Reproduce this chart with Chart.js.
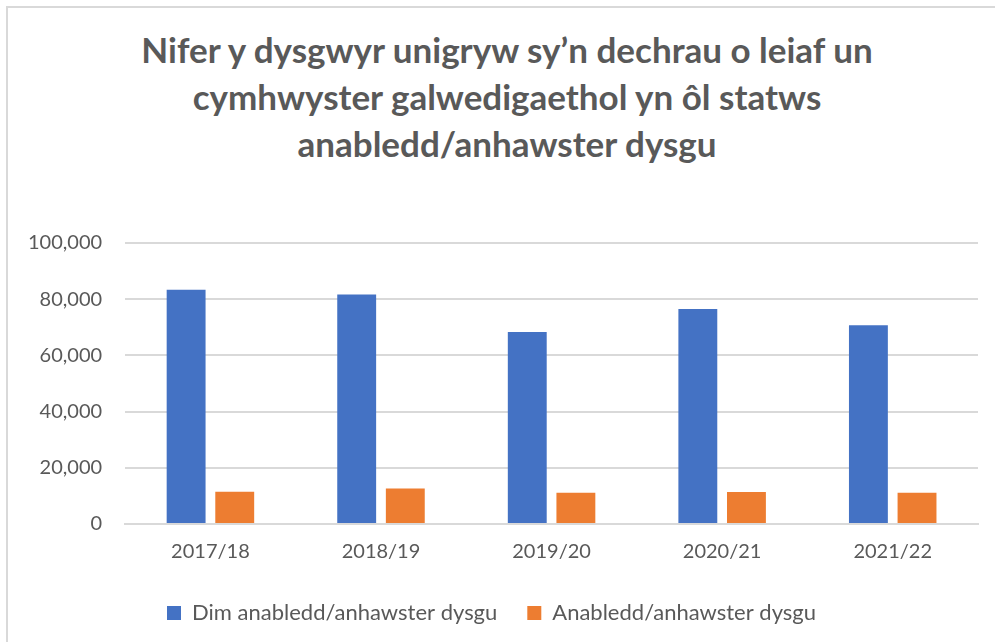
<!DOCTYPE html>
<html>
<head>
<meta charset="utf-8">
<script src="https://cdn.jsdelivr.net/npm/chart.js@4"></script>
<style>
	html, body { margin: 0; padding: 0; background: #fff; overflow: hidden; }
	#frame {
		position: absolute; left: 6px; top: 6px; width: 989px; height: 636px;
		border-top: 2px solid #d9d9d9; border-left: 2px solid #d9d9d9;
		box-sizing: border-box;
	}
	#title {
		position: absolute; left: 0; top: 26px; width: 1014px;
		text-align: center; font-family: Lato, sans-serif; font-weight: bold;
		font-size: 35px; line-height: 47px; color: #595959;
	}
	#wrap { position: absolute; left: 0; top: 208px; width: 995px; height: 426px; }
</style>
</head>
<body>
<div id="frame"></div>
<div id="title">Nifer y dysgwyr unigryw sy’n dechrau o leiaf un<br>cymhwyster galwedigaethol yn ôl statws<br>anabledd/anhawster dysgu</div>
<div id="wrap"><canvas id="chart"></canvas></div>
<script>
// Categorïau a gwerthoedd
const blynyddoedd = ["2017/18", "2018/19", "2019/20", "2020/21", "2021/22"];
const dimAnabledd = [83400, 81700, 68300, 76500, 70700];
const gydaAnabledd = [11500, 12600, 11100, 11400, 11100];
const labelsCyfres = ["Dim anabledd/anhawster dysgu", "Anabledd/anhawster dysgu"];

const ctx = document.getElementById("chart").getContext("2d");

new Chart(ctx, {
	type: "bar",
	data: {
		labels: blynyddoedd,
		datasets: [
			{
				label: labelsCyfres[0],
				data: dimAnabledd,
				backgroundColor: "#4472c4",
				barPercentage: 0.8,
				categoryPercentage: 0.57,
			},
			{
				label: labelsCyfres[1],
				data: gydaAnabledd,
				backgroundColor: "#ed7d31",
				barPercentage: 0.8,
				categoryPercentage: 0.57,
			},
		],
	},
	options: {
		responsive: true,
		maintainAspectRatio: false,
		animation: false,
		layout: { padding: { left: 5, right: 17, top: 8, bottom: 0 } },
		scales: {
			y: {
				min: 0,
				max: 100000,
				ticks: {
					stepSize: 20000,
					color: "#595959",
					font: { family: "Lato, sans-serif", size: 20 },
					padding: 23,
					callback: (v) => v.toLocaleString("en-GB"),
				},
				grid: { color: "#d9d9d9", lineWidth: 2, drawTicks: false },
				border: { display: false },
			},
			x: {
				ticks: {
					color: "#595959",
					font: { family: "Lato, sans-serif", size: 20 },
					padding: 8,
				},
				grid: { display: false },
				border: { color: "#d9d9d9", width: 2 },
			},
		},
		plugins: {
			legend: {
				position: "bottom",
				labels: {
					color: "#595959",
					font: { family: "Lato, sans-serif", size: 22 },
					boxWidth: 14,
					boxHeight: 14,
					padding: 30,
				},
			},
			tooltip: { enabled: false },
		},
	},
});
</script>
</body>
</html>
